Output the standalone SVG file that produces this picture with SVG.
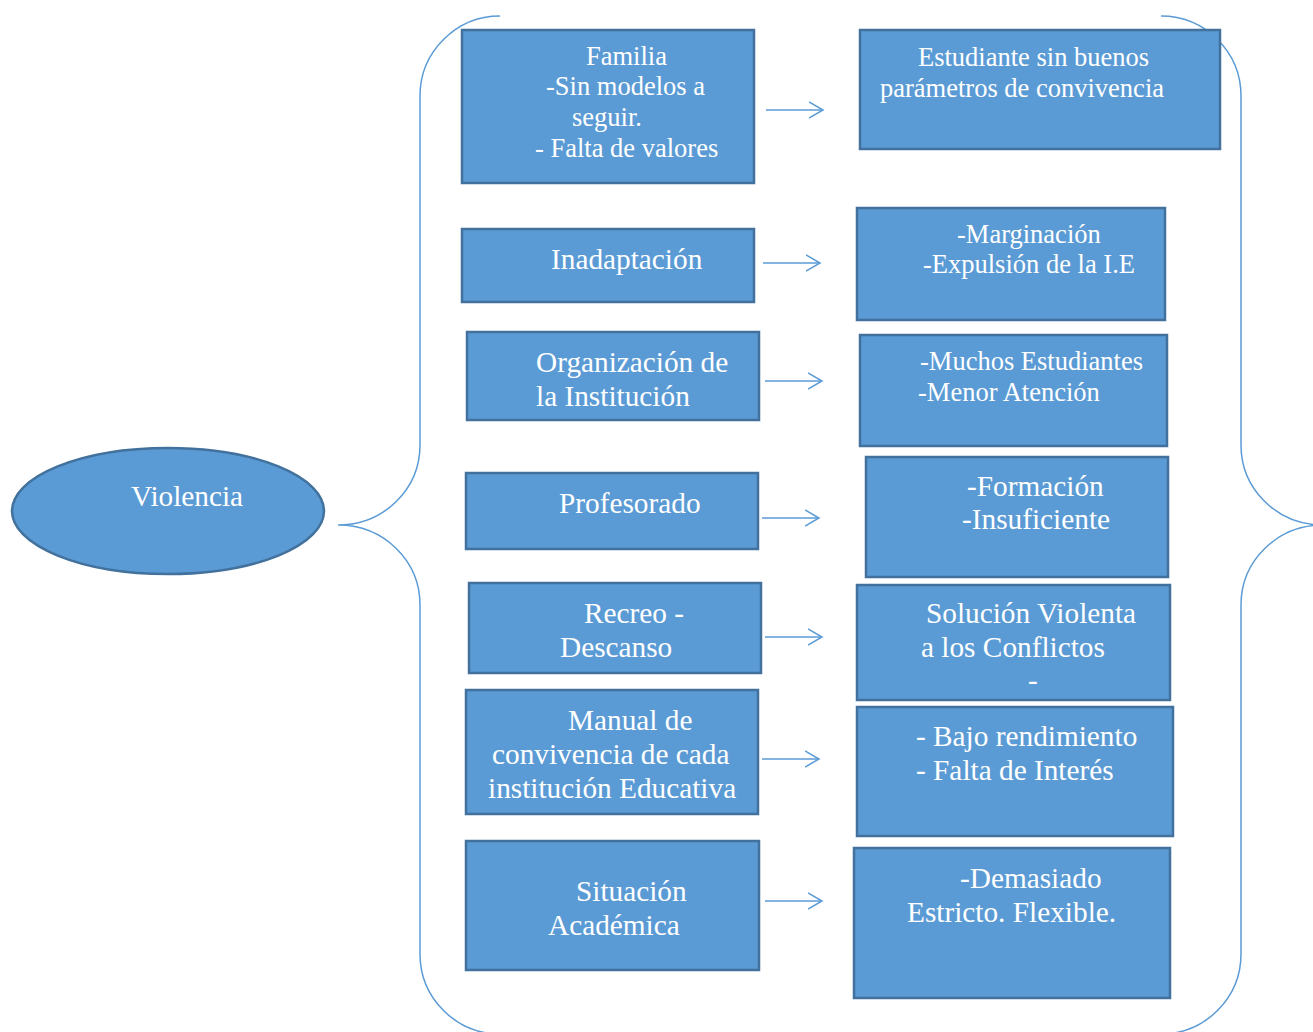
<svg xmlns="http://www.w3.org/2000/svg" width="1313" height="1032" viewBox="0 0 1313 1032">
<defs>
<style>
.box{fill:#5B9BD5;stroke:#41719C;stroke-width:2.5}
.t{fill:#FFFFFF;font-family:"Liberation Serif","Times New Roman",serif}
.s{font-size:26.5px}
.b{font-size:29.3px}
.brace{fill:none;stroke:#5B9BD5;stroke-width:1.5}
.ar{fill:none;stroke:#5B9BD5;stroke-width:1.5}
</style>
<marker id="ah" markerWidth="16" markerHeight="20" refX="14" refY="10" orient="auto" markerUnits="userSpaceOnUse">
<path d="M0,2 L14,10 L0,18" fill="none" stroke="#5B9BD5" stroke-width="1.5"/>
</marker>
</defs>
<rect width="1313" height="1032" fill="#FFFFFF"/>
<g id="connectors">
<path class="brace" d="M500,16 C456,16 420,52 420,96 L420,445 C420,489 384,525 338,525 C384,525 420,561 420,605 L420,954 C420,998 456,1034 500,1034"/>
<path class="brace" d="M1161,16 C1205,16 1241,52 1241,96 L1241,445 C1241,489 1277,525 1323,525 C1277,525 1241,561 1241,605 L1241,954 C1241,998 1205,1034 1161,1034"/>
<line class="ar" x1="766" y1="110" x2="823" y2="110" marker-end="url(#ah)"/>
<line class="ar" x1="763" y1="263" x2="820" y2="263" marker-end="url(#ah)"/>
<line class="ar" x1="765" y1="381" x2="822" y2="381" marker-end="url(#ah)"/>
<line class="ar" x1="762" y1="518" x2="819" y2="518" marker-end="url(#ah)"/>
<line class="ar" x1="765" y1="637" x2="822" y2="637" marker-end="url(#ah)"/>
<line class="ar" x1="762" y1="759" x2="819" y2="759" marker-end="url(#ah)"/>
<line class="ar" x1="765" y1="901" x2="822" y2="901" marker-end="url(#ah)"/>
</g>
<g id="violencia">
<ellipse cx="168" cy="511" rx="156" ry="63" fill="#5B9BD5" stroke="#41719C" stroke-width="2.5"/>
<text class="t b" x="131" y="506">Violencia</text>
</g>
<g id="familia">
<rect class="box" x="462" y="30" width="292" height="153"/>
<text class="t s" x="586" y="65">Familia</text>
<text class="t s" x="546" y="95">-Sin modelos a</text>
<text class="t s" x="572" y="126">seguir.</text>
<text class="t s" x="535" y="157">- Falta de valores</text>
</g>
<g id="estudiante">
<rect class="box" x="860" y="30" width="360" height="119"/>
<text class="t s" x="918" y="66">Estudiante sin buenos</text>
<text class="t s" x="880" y="97">parámetros de convivencia</text>
</g>
<g id="inadaptacion">
<rect class="box" x="462" y="229" width="292" height="73"/>
<text class="t b" x="551" y="269">Inadaptación</text>
</g>
<g id="marginacion">
<rect class="box" x="857" y="208" width="308" height="112"/>
<text class="t s" x="957" y="243">-Marginación</text>
<text class="t s" x="923" y="273">-Expulsión de la I.E</text>
</g>
<g id="organizacion">
<rect class="box" x="467" y="332" width="292" height="88"/>
<text class="t b" x="536" y="372">Organización de</text>
<text class="t b" x="536" y="406">la Institución</text>
</g>
<g id="muchos">
<rect class="box" x="860" y="335" width="307" height="111"/>
<text class="t s" x="920" y="370">-Muchos Estudiantes</text>
<text class="t s" x="918" y="401">-Menor Atención</text>
</g>
<g id="profesorado">
<rect class="box" x="466" y="473" width="292" height="76"/>
<text class="t b" x="559" y="513">Profesorado</text>
</g>
<g id="formacion">
<rect class="box" x="866" y="457" width="302" height="120"/>
<text class="t b" x="967" y="496">-Formación</text>
<text class="t b" x="962" y="529">-Insuficiente</text>
</g>
<g id="recreo">
<rect class="box" x="469" y="583" width="292" height="90"/>
<text class="t b" x="584" y="623">Recreo -</text>
<text class="t b" x="560" y="657">Descanso</text>
</g>
<g id="solucion">
<rect class="box" x="857" y="585" width="313" height="115"/>
<text class="t b" x="926" y="623">Solución Violenta</text>
<text class="t b" x="921" y="657">a los Conflictos</text>
<text class="t b" x="1028" y="690">-</text>
</g>
<g id="manual">
<rect class="box" x="466" y="690" width="292" height="124"/>
<text class="t b" x="568" y="730">Manual de</text>
<text class="t b" x="492" y="764">convivencia de cada</text>
<text class="t b" x="488" y="798">institución Educativa</text>
</g>
<g id="bajo">
<rect class="box" x="857" y="707" width="316" height="129"/>
<text class="t b" x="916" y="746">- Bajo rendimiento</text>
<text class="t b" x="916" y="780">- Falta de Interés</text>
</g>
<g id="situacion">
<rect class="box" x="466" y="841" width="293" height="129"/>
<text class="t b" x="576" y="901">Situación</text>
<text class="t b" x="548" y="935">Académica</text>
</g>
<g id="demasiado">
<rect class="box" x="854" y="848" width="316" height="150"/>
<text class="t b" x="960" y="888">-Demasiado</text>
<text class="t b" x="907" y="922">Estricto. Flexible.</text>
</g>
</svg>
